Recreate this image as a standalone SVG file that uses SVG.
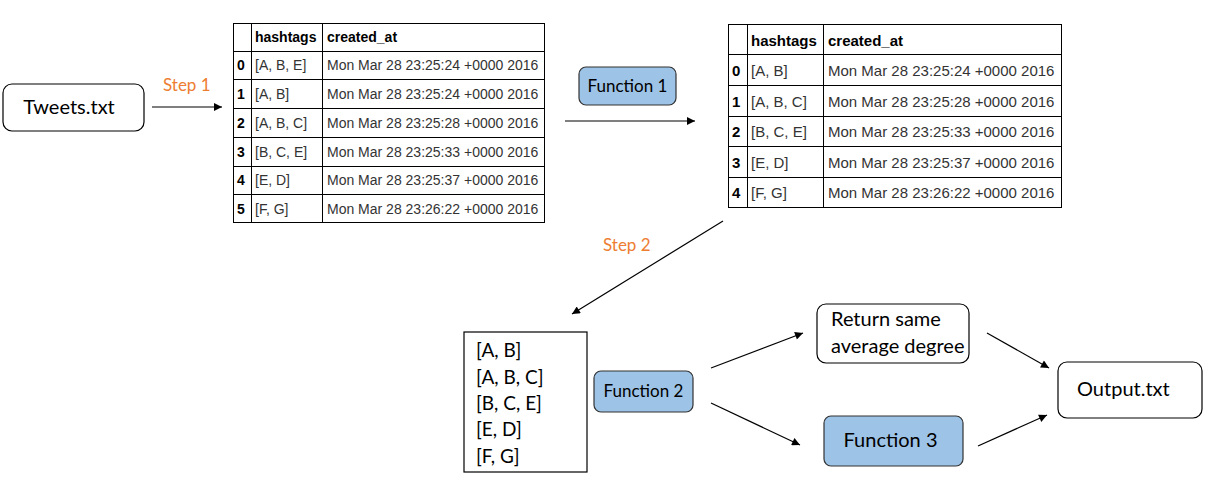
<svg xmlns="http://www.w3.org/2000/svg" width="1215" height="488" viewBox="0 0 1215 488">
<style>
.box{fill:#fff;stroke:#000;stroke-width:1.2}
.fn{fill:#9DC3E6;stroke:#333;stroke-width:1.2}
.t{font-family:Lato,"Open Sans","Liberation Sans",sans-serif;fill:#000}
.step{font-family:Lato,"Open Sans","Liberation Sans",sans-serif;fill:#ED7D31;font-size:17px}
.tb{fill:#fff;stroke:#000;stroke-width:1}
.tl{stroke:#000;stroke-width:1}
.h{font-family:"Liberation Sans",Arial,sans-serif;font-weight:bold;fill:#000}
.d{font-family:"Liberation Sans",Arial,sans-serif;fill:#333}
.c{stroke:#000;stroke-width:1.2;fill:none;marker-end:url(#ah)}
</style>
<defs>
<marker id="ah" viewBox="0 0 10 10" refX="10" refY="5" markerWidth="10" markerHeight="8" markerUnits="userSpaceOnUse" orient="auto">
<path d="M0,0 L10,5 L0,10 z" fill="#000"/>
</marker>
</defs>

<g id="tweets">
<rect class="box" x="3" y="84" width="141" height="47" rx="9"/>
<text class="t" x="69" y="114" font-size="20" text-anchor="middle">Tweets.txt</text>
</g>

<g id="table1">
<rect class="tb" x="233.5" y="23.5" width="311" height="199"/>
<line class="tl" x1="251.5" y1="23.5" x2="251.5" y2="222.5"/>
<line class="tl" x1="322.5" y1="23.5" x2="322.5" y2="222.5"/>
<line class="tl" x1="233.5" y1="51.5" x2="544.5" y2="51.5"/>
<line class="tl" x1="233.5" y1="79.5" x2="544.5" y2="79.5"/>
<line class="tl" x1="233.5" y1="108.5" x2="544.5" y2="108.5"/>
<line class="tl" x1="233.5" y1="137.5" x2="544.5" y2="137.5"/>
<line class="tl" x1="233.5" y1="166.5" x2="544.5" y2="166.5"/>
<line class="tl" x1="233.5" y1="194.5" x2="544.5" y2="194.5"/>
<g font-size="14">
<text class="h" x="255" y="42">hashtags</text>
<text class="h" x="327" y="42">created_at</text>
<text class="h" x="237" y="70">0</text><text class="d" x="255" y="70">[A, B, E]</text><text class="d" x="327" y="70">Mon Mar 28 23:25:24 +0000 2016</text>
<text class="h" x="237" y="99">1</text><text class="d" x="255" y="99">[A, B]</text><text class="d" x="327" y="99">Mon Mar 28 23:25:24 +0000 2016</text>
<text class="h" x="237" y="128">2</text><text class="d" x="255" y="128">[A, B, C]</text><text class="d" x="327" y="128">Mon Mar 28 23:25:28 +0000 2016</text>
<text class="h" x="237" y="157">3</text><text class="d" x="255" y="157">[B, C, E]</text><text class="d" x="327" y="157">Mon Mar 28 23:25:33 +0000 2016</text>
<text class="h" x="237" y="185">4</text><text class="d" x="255" y="185">[E, D]</text><text class="d" x="327" y="185">Mon Mar 28 23:25:37 +0000 2016</text>
<text class="h" x="237" y="214">5</text><text class="d" x="255" y="214">[F, G]</text><text class="d" x="327" y="214">Mon Mar 28 23:26:22 +0000 2016</text>
</g>
</g>

<g id="function1">
<rect class="fn" x="579" y="67" width="97" height="38" rx="7"/>
<text class="t" x="627.5" y="92" font-size="17" text-anchor="middle">Function 1</text>
</g>

<g id="table2">
<rect class="tb" x="728.5" y="24.5" width="333" height="183"/>
<line class="tl" x1="747.5" y1="24.5" x2="747.5" y2="207.5"/>
<line class="tl" x1="823.5" y1="24.5" x2="823.5" y2="207.5"/>
<line class="tl" x1="728.5" y1="54.5" x2="1061.5" y2="54.5"/>
<line class="tl" x1="728.5" y1="85.5" x2="1061.5" y2="85.5"/>
<line class="tl" x1="728.5" y1="116.5" x2="1061.5" y2="116.5"/>
<line class="tl" x1="728.5" y1="146.5" x2="1061.5" y2="146.5"/>
<line class="tl" x1="728.5" y1="177.5" x2="1061.5" y2="177.5"/>
<g font-size="15">
<text class="h" x="751" y="46">hashtags</text>
<text class="h" x="828" y="46">created_at</text>
<text class="h" x="732" y="76">0</text><text class="d" x="751" y="76">[A, B]</text><text class="d" x="828" y="76">Mon Mar 28 23:25:24 +0000 2016</text>
<text class="h" x="732" y="107">1</text><text class="d" x="751" y="107">[A, B, C]</text><text class="d" x="828" y="107">Mon Mar 28 23:25:28 +0000 2016</text>
<text class="h" x="732" y="137">2</text><text class="d" x="751" y="137">[B, C, E]</text><text class="d" x="828" y="137">Mon Mar 28 23:25:33 +0000 2016</text>
<text class="h" x="732" y="168">3</text><text class="d" x="751" y="168">[E, D]</text><text class="d" x="828" y="168">Mon Mar 28 23:25:37 +0000 2016</text>
<text class="h" x="732" y="198">4</text><text class="d" x="751" y="198">[F, G]</text><text class="d" x="828" y="198">Mon Mar 28 23:26:22 +0000 2016</text>
</g>
</g>

<g id="list">
<rect class="box" x="464" y="332" width="123" height="140"/>
<g class="t" font-size="19">
<text x="476" y="357">[A, B]</text>
<text x="476" y="384">[A, B, C]</text>
<text x="476" y="410">[B, C, E]</text>
<text x="476" y="436">[E, D]</text>
<text x="476" y="463">[F, G]</text>
</g>
</g>

<g id="function2">
<rect class="fn" x="594" y="371" width="99" height="41" rx="7"/>
<text class="t" x="643.5" y="397" font-size="17" text-anchor="middle">Function 2</text>
</g>

<g id="returnsame">
<rect class="box" x="817" y="304" width="152" height="59" rx="9"/>
<text class="t" x="831" y="326" font-size="20">Return same</text>
<text class="t" x="831" y="353" font-size="20">average degree</text>
</g>

<g id="function3">
<rect class="fn" x="824" y="416" width="139" height="50" rx="7"/>
<text class="t" x="890.5" y="447" font-size="20" text-anchor="middle">Function 3</text>
</g>

<g id="output">
<rect class="box" x="1058" y="362" width="144" height="56" rx="9"/>
<text class="t" x="1077" y="396" font-size="20">Output.txt</text>
</g>

<g id="labels">
<text class="step" x="163" y="91">Step 1</text>
<text class="step" x="603" y="251">Step 2</text>
</g>

<g id="connectors">
<line class="c" x1="152" y1="107" x2="222" y2="107"/>
<line class="c" x1="565" y1="121" x2="695" y2="121"/>
<line class="c" x1="723" y1="221" x2="572" y2="314"/>
<line class="c" x1="711" y1="368" x2="803" y2="333"/>
<line class="c" x1="711" y1="403" x2="800" y2="445"/>
<line class="c" x1="987" y1="333" x2="1049" y2="368"/>
<line class="c" x1="978" y1="446" x2="1047" y2="415"/>
</g>
</svg>
